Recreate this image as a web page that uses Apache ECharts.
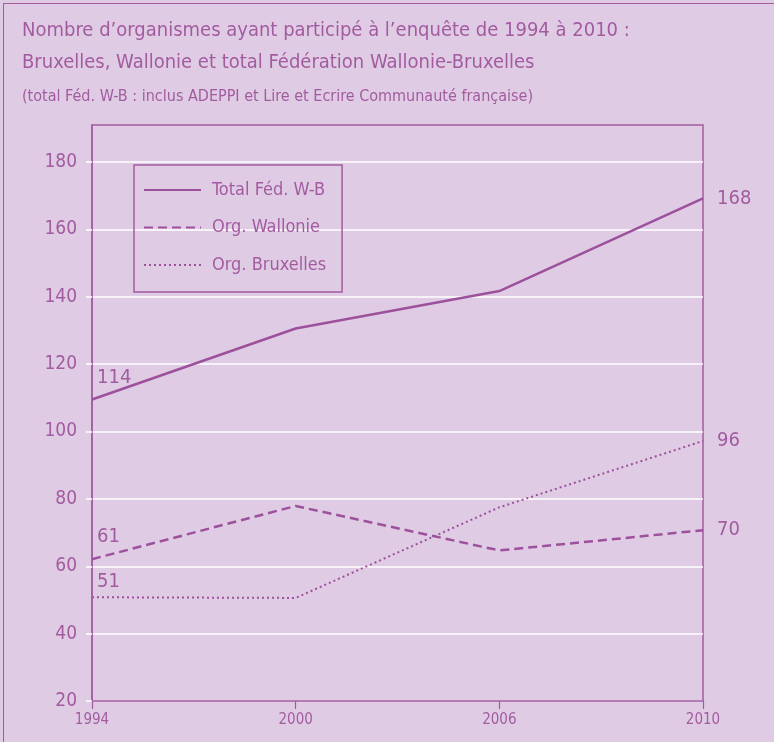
<!DOCTYPE html>
<html>
<head>
<meta charset="utf-8">
<script src="https://cdn.jsdelivr.net/npm/echarts@6/dist/echarts.min.js"></script>
<style>
html,body{margin:0;padding:0;background:#dfcce4;}
#frame{position:absolute;left:3px;top:3px;width:800px;height:800px;border:1.5px solid #a35ba0;box-sizing:border-box;}
#c{position:absolute;left:0;top:0;width:774px;height:742px;}
</style>
</head>
<body>
<div id="frame"></div>
<div id="c"></div>
<script>
const years = ['1994', '2000', '2006', '2010'];
const totalFWB = [109.5, 130.6, 141.7, 169.2];
const orgWallonie = [62.1, 77.9, 64.7, 70.7];
const orgBruxelles = [50.8, 50.6, 77.5, 97.2];
const totalLabels = ['114', '', '', '168'];
const wallonieLabels = ['61', '', '', '70'];
const bruxellesLabels = ['51', '', '', '96'];
const seriesNames = ['Total Féd. W-B', 'Org. Wallonie', 'Org. Bruxelles'];

const PURPLE = '#a35ba0';
const LINE = '#9d519c';
const FONT = '"DejaVu Sans Condensed", "Liberation Sans Narrow", sans-serif';

function buildData(vals, labels, leftOffset) {
  return vals.map((v, i) => {
    const isFirst = i === 0;
    const item = { value: v };
    if (labels[i]) {
      item.label = {
        show: true,
        position: 'right',
        distance: isFirst ? 5 : 14,
        offset: isFirst ? leftOffset : [0, 0],
        formatter: () => labels[i]
      };
    } else {
      item.label = { show: false };
    }
    return item;
  });
}

const chart = echarts.init(document.getElementById('c'));
chart.setOption({
  animation: false,
  backgroundColor: 'transparent',
  textStyle: { fontFamily: FONT },
  title: {
    left: 17, top: 10,
    text: 'Nombre d\u2019organismes ayant participé à l\u2019enquête de 1994 à 2010 :\nBruxelles, Wallonie et total Fédération Wallonie-Bruxelles',
    subtext: '(total Féd. W-B : inclus ADEPPI et Lire et Ecrire Communauté française)',
    itemGap: 8,
    textStyle: { color: PURPLE, fontSize: 20, fontWeight: 'normal', lineHeight: 32, fontFamily: FONT },
    subtextStyle: { color: PURPLE, fontSize: 16, fontFamily: FONT, lineHeight: 20 }
  },
  legend: {
    orient: 'vertical',
    left: 134, top: 165,
    padding: [15, 16, 17, 9],
    borderColor: PURPLE, borderWidth: 1.5,
    itemWidth: 57, itemHeight: 14, itemGap: 17.5,
    itemStyle: { color: 'transparent', borderWidth: 0, opacity: 0 },
    textStyle: { color: PURPLE, fontSize: 18, lineHeight: 20, fontFamily: FONT, padding: [0, 0, 0, 6] },
    data: seriesNames
  },
  grid: {
    left: 92, right: 71, top: 125, bottom: 41,
    show: true, borderColor: PURPLE, borderWidth: 1.5, backgroundColor: 'transparent',
    containLabel: false
  },
  xAxis: {
    type: 'category',
    data: years,
    boundaryGap: false,
    axisLine: { lineStyle: { color: PURPLE, width: 1.5 } },
    axisTick: { show: true, length: 8, lineStyle: { color: PURPLE, width: 1.2 } },
    axisLabel: { color: PURPLE, fontSize: 15, margin: 12, fontFamily: FONT },
    splitLine: { show: false }
  },
  yAxis: {
    type: 'value',
    min: 20,
    max: 191,
    interval: 20,
    axisLine: { show: true, lineStyle: { color: PURPLE, width: 1.5 } },
    axisTick: { show: true, length: 6, lineStyle: { color: '#ffffff', width: 1.5 } },
    axisLabel: { color: PURPLE, fontSize: 19, margin: 15, fontFamily: FONT, showMaxLabel: false },
    splitLine: { show: true, showMaxLine: false, lineStyle: { color: '#ffffff', width: 1.5 } }
  },
  series: [
    {
      name: seriesNames[0], type: 'line', symbol: 'circle', symbolSize: 0.01, showSymbol: true,
      lineStyle: { color: LINE, width: 2.5, type: 'solid' },
      itemStyle: { color: LINE },
      label: { color: PURPLE, fontSize: 20, fontFamily: FONT },
      data: buildData(totalFWB, totalLabels, [0, -22])
    },
    {
      name: seriesNames[1], type: 'line', symbol: 'circle', symbolSize: 0.01, showSymbol: true,
      lineStyle: { color: LINE, width: 2.5, type: [9, 5] },
      itemStyle: { color: LINE },
      label: { color: PURPLE, fontSize: 20, fontFamily: FONT },
      data: buildData(orgWallonie, wallonieLabels, [0, -22])
    },
    {
      name: seriesNames[2], type: 'line', symbol: 'circle', symbolSize: 0.01, showSymbol: true,
      lineStyle: { color: LINE, width: 2, type: [2, 3] },
      itemStyle: { color: LINE },
      label: { color: PURPLE, fontSize: 20, fontFamily: FONT },
      data: buildData(orgBruxelles, bruxellesLabels, [0, -15])
    }
  ]
});
</script>
</body>
</html>
